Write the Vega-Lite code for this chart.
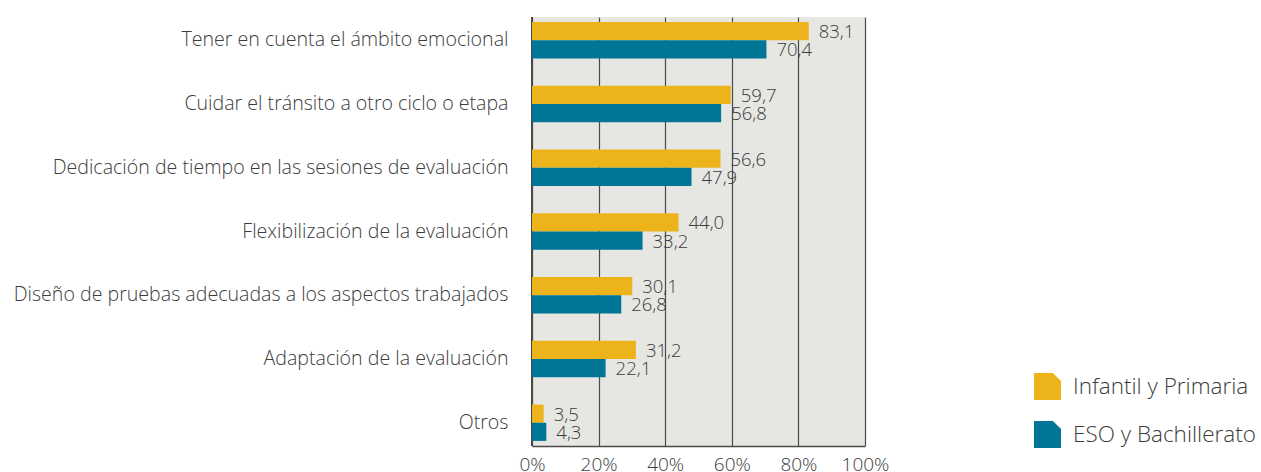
{
  "$schema": "https://vega.github.io/schema/vega-lite/v6.json",
  "width": 333,
  "height": 429,
  "autosize": "none",
  "padding": {"left": 532, "top": 17, "right": 396, "bottom": 26},
  "background": "#ffffff",
  "config": {
    "locale": {"number": {"decimal": ",", "thousands": ".", "grouping": [3], "currency": ["", " €"]}},
    "view": {"fill": "#e6e6e3", "stroke": null},
    "font": "Open Sans"
  },
  "data": {
    "values": [
      {"cat": "Tener en cuenta el ámbito emocional", "serie": "Infantil y Primaria", "v": 83.1},
      {"cat": "Tener en cuenta el ámbito emocional", "serie": "ESO y Bachillerato", "v": 70.4},
      {"cat": "Cuidar el tránsito a otro ciclo o etapa", "serie": "Infantil y Primaria", "v": 59.7},
      {"cat": "Cuidar el tránsito a otro ciclo o etapa", "serie": "ESO y Bachillerato", "v": 56.8},
      {"cat": "Dedicación de tiempo en las sesiones de evaluación", "serie": "Infantil y Primaria", "v": 56.6},
      {"cat": "Dedicación de tiempo en las sesiones de evaluación", "serie": "ESO y Bachillerato", "v": 47.9},
      {"cat": "Flexibilización de la evaluación", "serie": "Infantil y Primaria", "v": 44.0},
      {"cat": "Flexibilización de la evaluación", "serie": "ESO y Bachillerato", "v": 33.2},
      {"cat": "Diseño de pruebas adecuadas a los aspectos trabajados", "serie": "Infantil y Primaria", "v": 30.1},
      {"cat": "Diseño de pruebas adecuadas a los aspectos trabajados", "serie": "ESO y Bachillerato", "v": 26.8},
      {"cat": "Adaptación de la evaluación", "serie": "Infantil y Primaria", "v": 31.2},
      {"cat": "Adaptación de la evaluación", "serie": "ESO y Bachillerato", "v": 22.1},
      {"cat": "Otros", "serie": "Infantil y Primaria", "v": 3.5},
      {"cat": "Otros", "serie": "ESO y Bachillerato", "v": 4.3}
    ]
  },
  "encoding": {
    "y": {
      "field": "cat", "type": "nominal", "sort": null,
      "scale": {"paddingInner": 0.43, "paddingOuter": 0.08},
      "axis": {
        "title": null, "domain": false, "ticks": false,
        "labelFontSize": 19.6, "labelColor": "#3c3c3c", "labelPadding": 24,
        "labelLimit": 0, "labelFont": "Open Sans", "labelFontWeight": 300, "labelDy": -2
      }
    },
    "yOffset": {"field": "serie", "type": "nominal", "sort": ["Infantil y Primaria", "ESO y Bachillerato"]},
    "x": {
      "field": "v", "type": "quantitative",
      "scale": {"domain": [0, 100], "nice": false},
      "axis": {
        "title": null, "values": [0, 20, 40, 60, 80, 100],
        "labelExpr": "datum.value + '%'",
        "grid": true, "gridColor": "#4a4a4a", "gridWidth": 1.2, "gridOpacity": 1,
        "domain": true, "domainColor": "#4a4a4a", "domainWidth": 1.5,
        "ticks": false, "labelPadding": 9, "labelDx": 8,
        "labelFontSize": 19, "labelColor": "#3c3c3c", "labelFontWeight": 300,
        "labelFlush": false
      }
    }
  },
  "layer": [
    {
      "mark": {"type": "rule", "color": "#4a4a4a", "strokeWidth": 1.5},
      "encoding": {"x": {"datum": 0}, "y": null, "yOffset": null}
    },
    {
      "mark": {"type": "bar"},
      "encoding": {
        "color": {
          "field": "serie", "type": "nominal",
          "sort": ["Infantil y Primaria", "ESO y Bachillerato"],
          "scale": {"domain": ["Infantil y Primaria", "ESO y Bachillerato"], "range": ["#ecb31b", "#007596"]},
          "legend": {
            "title": null, "orient": "none", "legendX": 502, "legendY": 356,
            "symbolType": "M-1,-1L0.4,-1L1,-0.4L1,1L-1,1Z",
            "symbolSize": 729, "symbolStrokeWidth": 0, "symbolOpacity": 1,
            "labelFontSize": 22.5, "labelColor": "#3c3c3c", "labelFontWeight": 300,
            "labelOffset": 12, "rowPadding": 21, "labelLimit": 0
          }
        }
      }
    },
    {
      "mark": {"type": "text", "align": "left", "baseline": "middle", "dx": 10, "dy": 1, "fontSize": 18.5, "color": "#3c3c3c", "fontWeight": 300},
      "encoding": {"text": {"field": "v", "type": "quantitative", "format": ".1f"}}
    }
  ]
}
